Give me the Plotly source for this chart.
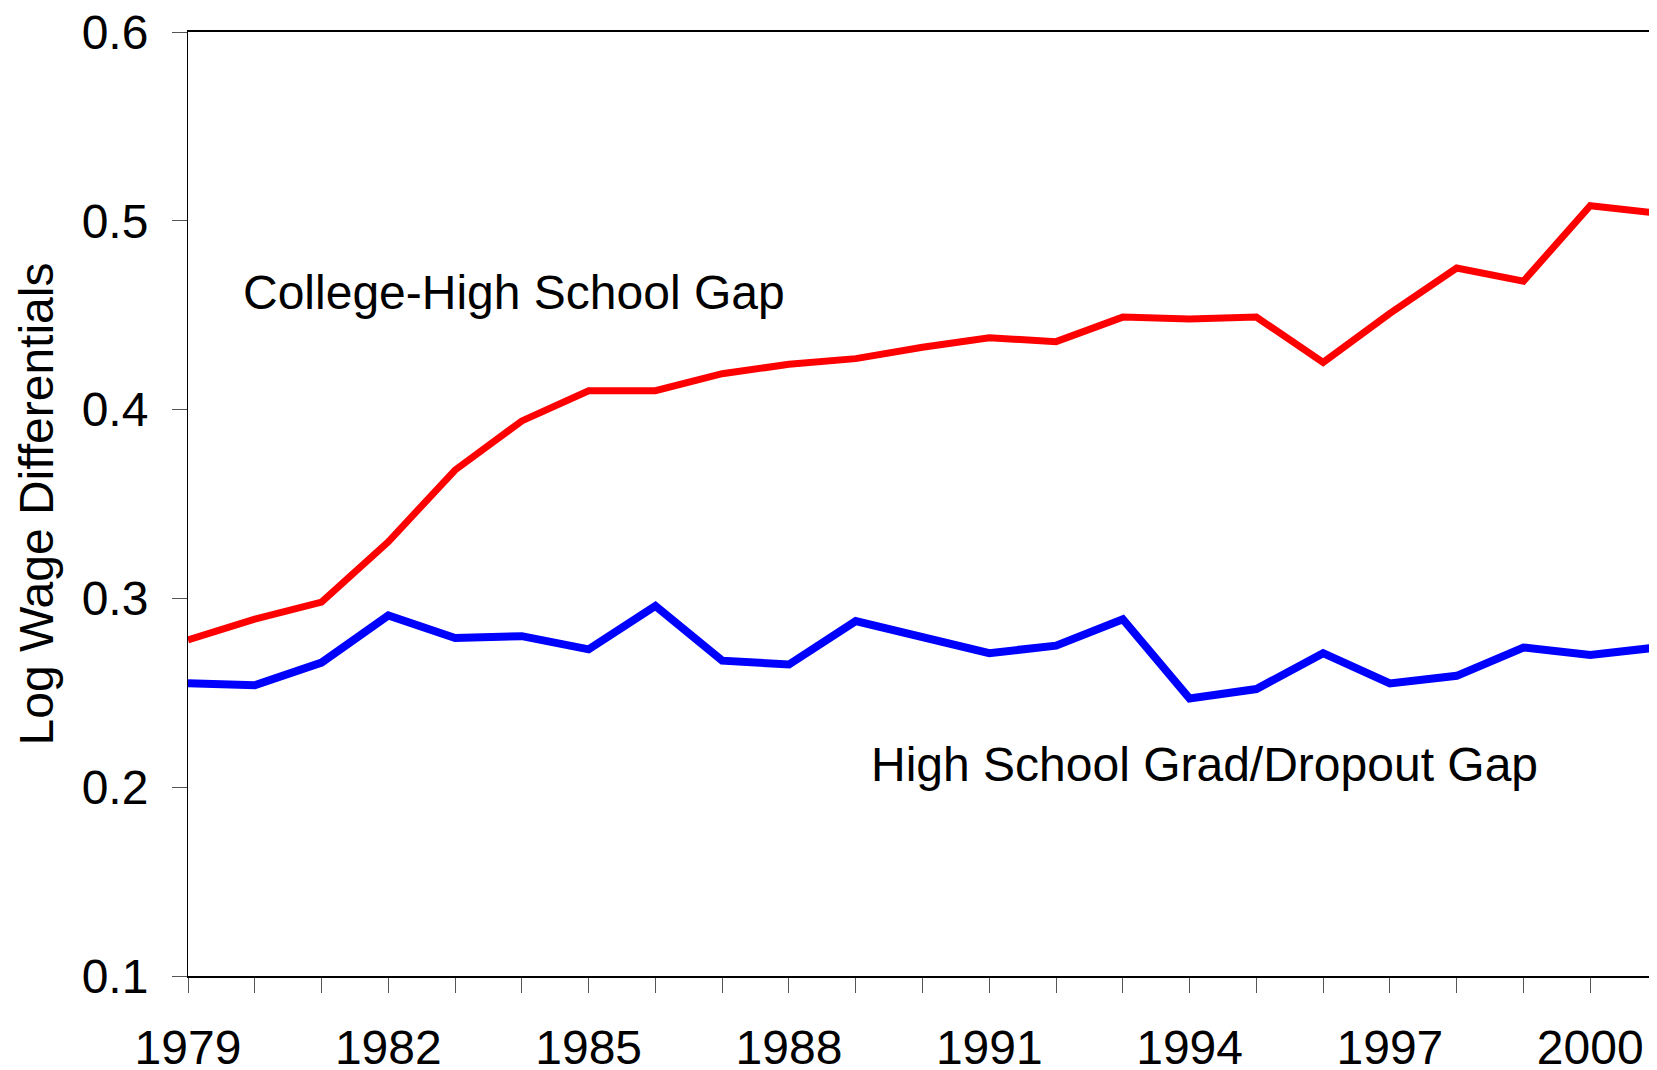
import plotly.graph_objects as go

# data
years = list(range(1979, 2002))
college_hs_gap = [0.278, 0.289, 0.298, 0.330, 0.368, 0.394, 0.410, 0.410, 0.419, 0.424,
                  0.427, 0.433, 0.438, 0.436, 0.449, 0.448, 0.449, 0.425, 0.451, 0.475,
                  0.468, 0.508, 0.504]
hs_dropout_gap = [0.255, 0.254, 0.266, 0.291, 0.279, 0.280, 0.273, 0.296, 0.267, 0.265,
                  0.288, 0.280, 0.271, 0.275, 0.289, 0.247, 0.252, 0.271, 0.255, 0.259,
                  0.274, 0.270, 0.274]
y_ticks = [0.1, 0.2, 0.3, 0.4, 0.5, 0.6]

FONT = "Liberation Sans, Arial, sans-serif"
FS = 48

fig = go.Figure()
fig.add_trace(go.Scatter(x=years, y=college_hs_gap, mode="lines",
                         line=dict(color="#ff0000", width=7), name="College-High School Gap"))
fig.add_trace(go.Scatter(x=years, y=hs_dropout_gap, mode="lines",
                         line=dict(color="#0000ff", width=8), name="High School Grad/Dropout Gap"))

# in-plot labels
fig.add_annotation(x=1979.8, y=0.462, text="College-High School Gap", showarrow=False,
                   xanchor="left", yanchor="middle", font=dict(size=FS, color="black", family=FONT))
fig.add_annotation(x=1989.2, y=0.212, text="High School Grad/Dropout Gap", showarrow=False,
                   xanchor="left", yanchor="middle", font=dict(size=FS, color="black", family=FONT))

# page body has an 8px margin, so the figure is a bit smaller than the window
fig.update_layout(
    width=1649, height=1062,
    margin=dict(l=180, r=0, t=24, b=94),
    paper_bgcolor="white", plot_bgcolor="white",
    showlegend=False,
    font=dict(family=FONT, size=FS, color="black"),
)

fig.update_xaxes(
    range=[1979, 2001], tick0=1979, dtick=3, automargin=False, ticklabeloverflow="allow",
    ticks="outside", ticklen=15, tickcolor="#555555", tickwidth=1, ticklabelstandoff=13,
    minor=dict(dtick=1, tick0=1979, ticks="outside", ticklen=15, tickcolor="#555555", tickwidth=1, showgrid=False),
    showline=True, linecolor="black", linewidth=2, mirror=True,
    showgrid=False, zeroline=False,
    tickfont=dict(size=FS, family=FONT),
)
fig.update_yaxes(
    range=[0.1, 0.6], tickvals=y_ticks, ticktext=[f"{v:.1f}" for v in y_ticks],
    automargin=False, ticklabeloverflow="allow",
    ticks="outside", ticklen=15, tickcolor="#555555", tickwidth=1, ticklabelstandoff=14,
    showline=True, linecolor="black", linewidth=1, mirror=True,
    showgrid=False, zeroline=False,
    tickfont=dict(size=FS, family=FONT),
    title=dict(text="Log Wage Differentials", font=dict(size=FS, family=FONT), standoff=12),
)

fig.write_html("out.html")
